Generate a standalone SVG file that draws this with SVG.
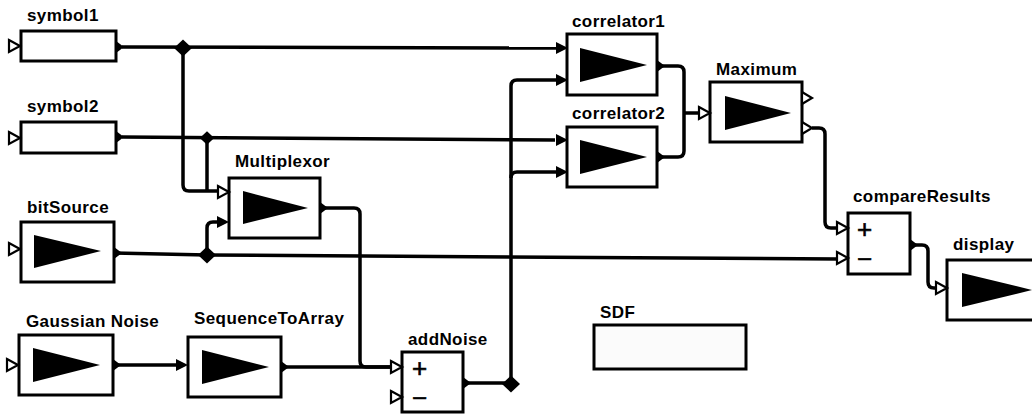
<svg xmlns="http://www.w3.org/2000/svg" xmlns:xlink="http://www.w3.org/1999/xlink" width="1032" height="414" viewBox="0 0 1032 414">
<style>
.box{fill:#fff;stroke:#000;stroke-width:3}
.tri{fill:#000}
.lbl{font-family:"Liberation Sans",Arial,sans-serif;font-weight:bold;font-size:17px;letter-spacing:0.4px;fill:#000}
.sign{font-family:"Liberation Sans",Arial,sans-serif;font-size:26px;fill:#000;stroke:#000;stroke-width:0.6}
.wire{fill:none;stroke:#000;stroke-width:3.5;stroke-linejoin:round}
.open{fill:#fff;stroke:#000;stroke-width:2.2;stroke-linejoin:miter}
.solid{fill:#000}
</style>
<defs>
<path id="pin" class="open" d="M-11,-6 L0,0 L-11,6 Z"/>
<path id="pinf" class="solid" d="M-12,-6 L0,0 L-12,6 Z"/>
<path id="pout" class="solid" d="M0,-6 L8,0 L0,6 Z"/>
<path id="poutOpen" class="open" d="M0,-6 L10,0 L0,6 Z"/>
<path id="dia" class="solid" d="M-9,0 L0,-8.5 L9,0 L0,8.5 Z"/>
</defs>
<rect width="1032" height="414" fill="#fff"/>

<g id="connectors">
<path class="wire" d="M122,47 L560,48"/>
<path class="wire" d="M183,48 V185 Q183,191 189,191 H220"/>
<path class="wire" d="M122,137 L555,140"/>
<path class="wire" d="M207,138 V191"/>
<path class="wire" d="M114,253 L207,255 L838,259"/>
<path class="wire" d="M207,255 V228 Q207,222 213,222 H220"/>
<path class="wire" d="M320,208 H354 Q360,208 360,214 V361 Q360,367 366,367 H392"/>
<path class="wire" d="M113,365 H180"/>
<path class="wire" d="M281,367 H392"/>
<path class="wire" d="M463,383 H511 V86 Q511,80 517,80 H558"/>
<path class="wire" d="M511,178 Q511,172 517,172 H558"/>
<path class="wire" d="M658,66 H678 Q684,66 684,72 V151 Q684,157 678,157 H658"/>
<path class="wire" d="M684,113 H700"/>
<path class="wire" d="M812,128 H819 Q825,128 825,134 V222 Q825,228 831,228 H838"/>
<path class="wire" d="M910,245 H922 Q928,245 928,251 V282 Q928,288 934,288 H937"/>
<use xlink:href="#dia" x="183" y="48"/>
<use xlink:href="#dia" x="207" y="138" transform="translate(207,138) scale(0.8) translate(-207,-138)"/>
<use xlink:href="#dia" x="207" y="255"/>
<use xlink:href="#dia" x="511" y="384"/>
</g>

<g id="symbol1">
<text class="lbl" x="27" y="21">symbol1</text>
<rect class="box" x="21" y="31" width="95" height="30"/>
<use xlink:href="#pin" x="20" y="46"/>
<use xlink:href="#pout" x="116" y="47"/>
</g>

<g id="symbol2">
<text class="lbl" x="27" y="112">symbol2</text>
<rect class="box" x="21" y="122" width="95" height="31"/>
<use xlink:href="#pin" x="20" y="138"/>
<use xlink:href="#pout" x="116" y="137"/>
</g>

<g id="bitSource">
<text class="lbl" x="27" y="213">bitSource</text>
<rect class="box" x="21" y="222" width="93" height="60"/>
<path class="tri" d="M34,235 L101,251 L34,268 Z"/>
<use xlink:href="#pin" x="20" y="249"/>
<use xlink:href="#pout" x="114" y="253"/>
</g>

<g id="GaussianNoise">
<text class="lbl" x="26" y="327">Gaussian Noise</text>
<rect class="box" x="19" y="335" width="94" height="60"/>
<path class="tri" d="M33,348 L100,365 L33,382 Z"/>
<use xlink:href="#pin" x="18" y="365"/>
<use xlink:href="#pout" x="113" y="365"/>
</g>

<g id="SequenceToArray">
<text class="lbl" x="194" y="324">SequenceToArray</text>
<rect class="box" x="188" y="337" width="93" height="60"/>
<path class="tri" d="M202,350 L269,367 L202,384 Z"/>
<use xlink:href="#pinf" x="188" y="365"/>
<use xlink:href="#pout" x="281" y="367"/>
</g>

<g id="Multiplexor">
<text class="lbl" x="235" y="167">Multiplexor</text>
<rect class="box" x="229" y="178" width="91" height="60"/>
<path class="tri" d="M243,191 L308,208 L243,224 Z"/>
<use xlink:href="#pin" x="229" y="192"/>
<use xlink:href="#pinf" x="229" y="222"/>
<use xlink:href="#pout" x="320" y="208"/>
</g>

<g id="addNoise">
<text class="lbl" x="408" y="345">addNoise</text>
<rect class="box" x="402" y="352" width="61" height="60"/>
<text class="sign" x="412" y="377">+</text>
<text class="sign" x="412" y="407">−</text>
<use xlink:href="#pin" x="402" y="367"/>
<use xlink:href="#pin" x="402" y="397"/>
<use xlink:href="#pout" x="463" y="383"/>
</g>

<g id="correlator1">
<text class="lbl" x="572" y="27">correlator1</text>
<rect class="box" x="567" y="34" width="90" height="61"/>
<path class="tri" d="M580,48 L647,65 L580,82 Z"/>
<use xlink:href="#pinf" x="568" y="48"/>
<use xlink:href="#pinf" x="568" y="80"/>
<use xlink:href="#pout" x="657" y="66"/>
</g>

<g id="correlator2">
<text class="lbl" x="572" y="119">correlator2</text>
<rect class="box" x="567" y="127" width="90" height="60"/>
<path class="tri" d="M580,140 L647,157 L580,174 Z"/>
<use xlink:href="#pinf" x="568" y="140"/>
<use xlink:href="#pinf" x="568" y="172"/>
<use xlink:href="#pout" x="657" y="157"/>
</g>

<g id="Maximum">
<text class="lbl" x="716" y="75">Maximum</text>
<rect class="box" x="710" y="82" width="92" height="60"/>
<path class="tri" d="M725,96 L791,113 L725,130 Z"/>
<use xlink:href="#pin" x="710" y="113"/>
<use xlink:href="#poutOpen" x="802" y="98"/>
<use xlink:href="#poutOpen" x="802" y="128"/>
</g>

<g id="compareResults">
<text class="lbl" x="853" y="202">compareResults</text>
<rect class="box" x="848" y="213" width="62" height="61"/>
<text class="sign" x="857" y="238">+</text>
<text class="sign" x="857" y="268">−</text>
<use xlink:href="#pin" x="848" y="228"/>
<use xlink:href="#pin" x="848" y="258"/>
<use xlink:href="#pout" x="910" y="245"/>
</g>

<g id="display">
<text class="lbl" x="953" y="250">display</text>
<rect class="box" x="947" y="260" width="95" height="60"/>
<path class="tri" d="M962,273 L1032,290 L962,307 Z"/>
<use xlink:href="#pin" x="947" y="288"/>
</g>

<g id="SDF">
<text class="lbl" x="600" y="318">SDF</text>
<rect class="box" x="594" y="325" width="152" height="44" style="fill:#fbfbfb"/>
</g>
</svg>
